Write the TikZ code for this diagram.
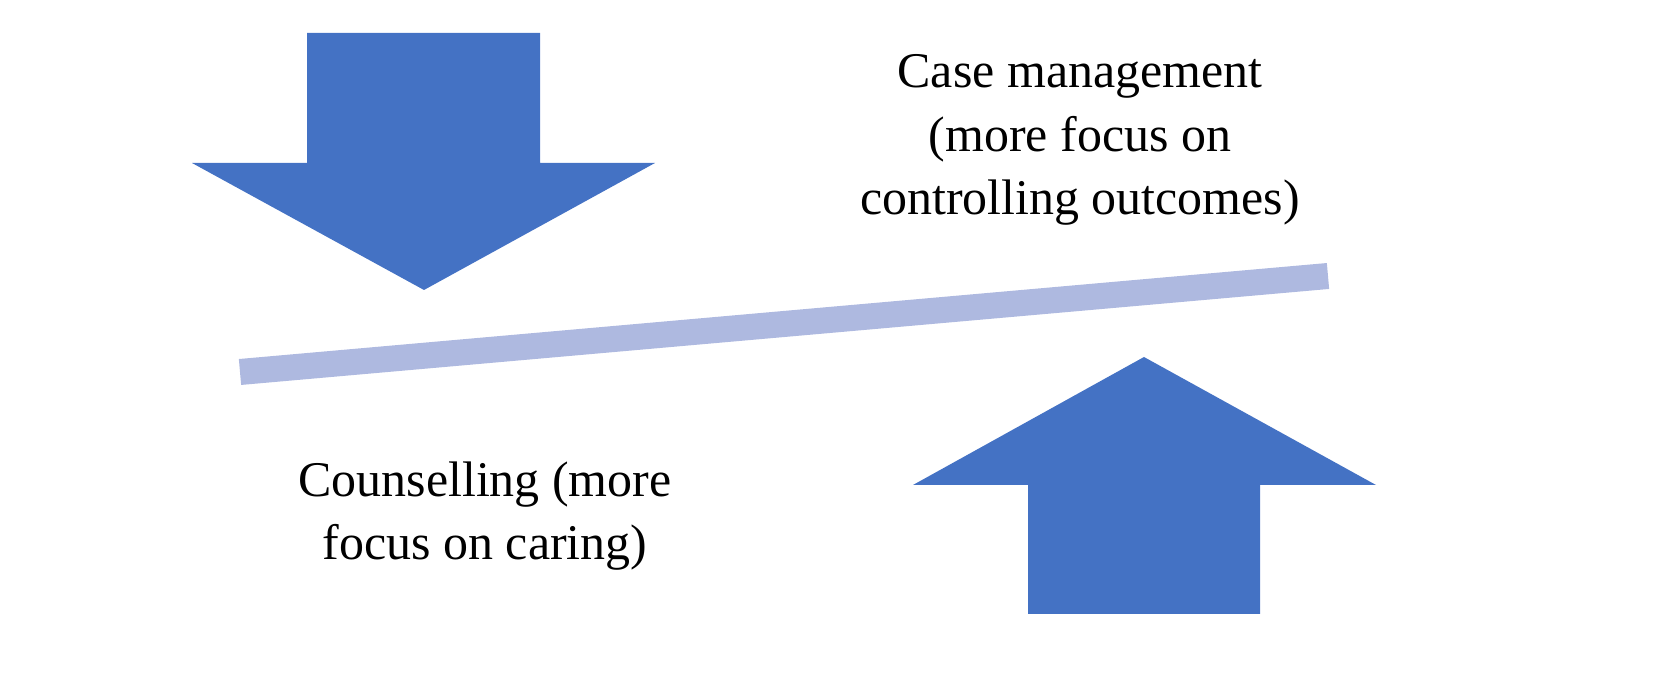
\documentclass[tikz,border=0pt]{standalone}
\usepackage{fontspec}
\setmainfont{Liberation Serif}
\definecolor{arrowblue}{HTML}{4472C4}
\definecolor{barblue}{HTML}{AEB9E0}
\begin{document}
\begin{tikzpicture}[x=0.01cm,y=-0.01cm,
    label/.style={align=center,font=\fontsize{14.2}{18}\selectfont,inner sep=0pt}]
        \useasboundingbox (0,0) rectangle (1656,686);
        % down arrow
        \fill[arrowblue] (307,33)--(540,33)--(540,163)--(655,163)--(424,290)
            --(192,163)--(307,163)--cycle;
        % up arrow
        \fill[arrowblue] (1028,614)--(1260,614)--(1260,485)--(1376,485)--(1144,357)
            --(913,485)--(1028,485)--cycle;
        % beam
        \draw[barblue,line width=0.26cm] (240,372)--(1328,276);

        \node (cm) at (1080,140) [label] {Case management\\(more focus on\\controlling outcomes)};
        \node (cs) at (485,516) [label] {Counselling (more\\focus on caring)};
      \end{tikzpicture}
\end{document}
